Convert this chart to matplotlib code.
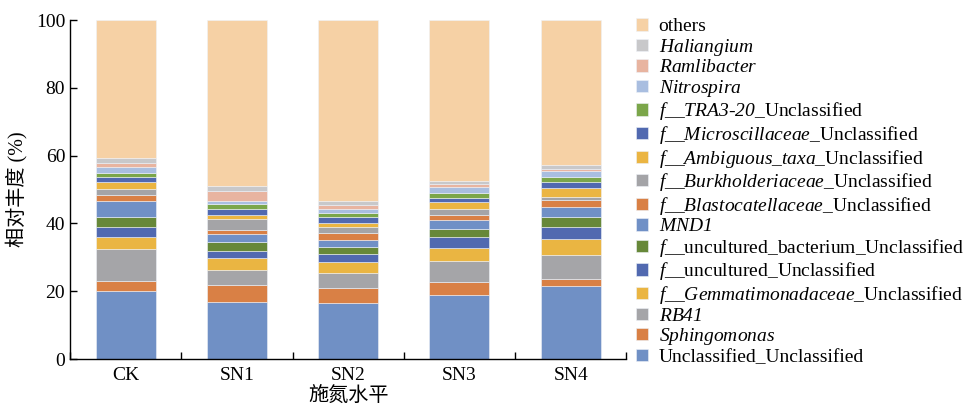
import numpy as np
from matplotlib import pyplot as plt

plt.rcParams['font.family'] = ['Liberation Serif', 'Noto Sans CJK SC']
plt.rcParams['mathtext.fontset'] = 'custom'
plt.rcParams['mathtext.rm'] = 'Liberation Serif:italic'
plt.rcParams['mathtext.it'] = 'Liberation Serif:italic'

groups = ['CK', 'SN1', 'SN2', 'SN3', 'SN4']

# stacking order, bottom to top (math parts are italic)
taxa = [
    'Unclassified_Unclassified',
    r'$Sphingomonas$',
    r'$RB41$',
    r'$f\_\_Gemmatimonadaceae$_Unclassified',
    r'$f$__uncultured_Unclassified',
    r'$f$__uncultured_bacterium_Unclassified',
    r'$MND1$',
    r'$f\_\_Blastocatellaceae$_Unclassified',
    r'$f\_\_Burkholderiaceae$_Unclassified',
    r'$f\_\_Ambiguous\_taxa$_Unclassified',
    r'$f\_\_Microscillaceae$_Unclassified',
    r'$f\_\_TRA3$-$20$_Unclassified',
    r'$Nitrospira$',
    r'$Ramlibacter$',
    r'$Haliangium$',
    'others',
]

unclassified = [20.2, 16.7, 16.5, 18.9, 21.4]
sphingomonas = [2.8, 5.2, 4.4, 3.8, 2.1]
rb41 = [9.4, 4.4, 4.4, 6.3, 7.1]
gemmatimonadaceae = [3.6, 3.4, 3.2, 3.7, 4.7]
uncultured = [2.9, 2.1, 2.4, 3.3, 3.5]
uncultured_bacterium = [3.1, 2.6, 2.1, 2.5, 3.0]
mnd1 = [4.5, 2.6, 2.2, 2.4, 3.0]
blastocatellaceae = [2.0, 1.2, 2.1, 1.7, 2.0]
burkholderiaceae = [1.7, 3.0, 1.5, 1.7, 0.9]
ambiguous_taxa = [2.0, 1.2, 1.4, 1.9, 2.7]
microscillaceae = [1.6, 2.0, 1.7, 1.3, 1.7]
tra3_20 = [1.2, 1.4, 1.2, 1.5, 1.7]
nitrospira = [1.5, 0.9, 1.3, 1.7, 1.6]
ramlibacter = [1.4, 3.0, 0.9, 0.9, 0.6]
haliangium = [1.5, 1.2, 1.2, 1.0, 1.1]

series = [unclassified, sphingomonas, rb41, gemmatimonadaceae, uncultured,
          uncultured_bacterium, mnd1, blastocatellaceae, burkholderiaceae,
          ambiguous_taxa, microscillaceae, tra3_20, nitrospira, ramlibacter,
          haliangium]
others = [100 - sum(s[i] for s in series) for i in range(len(groups))]
series.append(others)

colors = ['#7090c5', '#d98045', '#a5a5a8', '#eab542', '#5169b0', '#678839',
          '#7090c6', '#d98045', '#a4a4a7', '#ebb542', '#5169b0', '#7ba64a',
          '#a9bee0', '#e8b4a0', '#c8c8ca', '#f6d1a5']

fig = plt.figure(figsize=(9.7, 4.17), dpi=100)
ax = fig.add_axes([0.0722, 0.139, 0.5735, 0.813])

x = np.arange(len(groups))
bottom = np.zeros(len(groups))
handles = []
for vals, col, lab in zip(series, colors, taxa):
    b = ax.bar(x, vals, width=0.54, bottom=bottom, color=col, label=lab,
               edgecolor='#eef2f8', linewidth=0.4)
    bottom += np.array(vals)
    handles.append(b)

ax.set_xlim(-0.5, len(groups) - 0.5)
ax.set_ylim(0, 100)
ax.set_yticks([0, 20, 40, 60, 80, 100])
ax.set_xticks(x)
ax.set_xticklabels(groups)
ax.set_xticks(np.arange(-0.5, len(groups)), minor=True)
ax.tick_params(axis='x', which='major', length=0, labelsize=14, pad=6)
ax.tick_params(axis='x', which='minor', direction='in', length=5, width=1)
ax.tick_params(axis='y', direction='in', length=5, width=1, labelsize=14)
ax.spines['top'].set_visible(False)
ax.spines['right'].set_visible(False)
for sp in ['left', 'bottom']:
    ax.spines[sp].set_linewidth(1)

ax.set_ylabel('相对丰度 (%)', fontsize=14.5, labelpad=6)
ax.set_xlabel('施氮水平', fontsize=14.5, labelpad=2)

fig.legend(handles[::-1], taxa[::-1], loc='upper left',
           bbox_to_anchor=(0.648, 0.975), frameon=False, fontsize=14,
           handlelength=0.6, handleheight=0.6, handletextpad=0.55,
           labelspacing=0.08, borderaxespad=0)

fig.savefig('out.png', dpi=100)
